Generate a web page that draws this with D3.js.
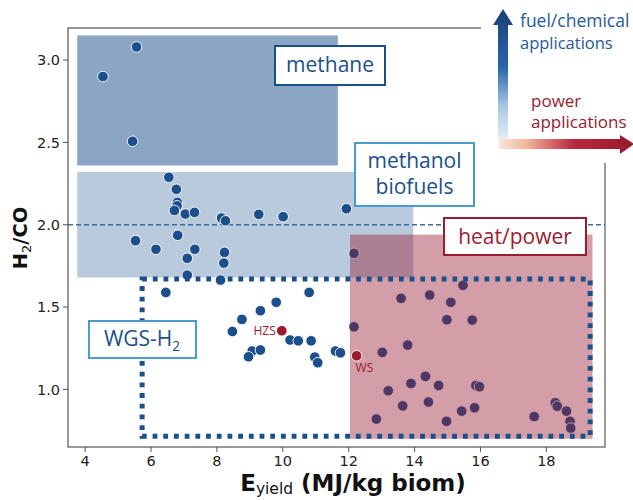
<!DOCTYPE html>
<html><head><meta charset="utf-8">
<script src="https://cdn.jsdelivr.net/npm/d3@7"></script>
<style>
html,body{margin:0;padding:0;background:#fff;}
svg{display:block;}
</style></head>
<body>
<script>
// ---- data ----
const pointsX = [5.56,4.54,5.44,
 6.54,6.77,6.80,6.79,6.71,7.04,7.32,8.14,8.26,9.27,10.01,11.93,
 5.53,6.81,6.15,7.33,8.23,7.10,8.21,7.10,8.11,12.16,
 6.45,10.80,9.80,9.32,8.76,8.47,10.22,10.47,10.86,9.07,8.96,9.32,10.97,11.06,11.60,11.75,12.16,
 15.47,13.59,14.46,15.10,14.98,15.75,13.79,13.02,14.33,13.89,14.73,15.86,15.97,13.20,13.64,14.42,15.43,15.82,12.84,14.97,17.63,18.27,18.33,18.61,18.72,18.74];
const pointsY = [3.08,2.90,2.507,
 2.288,2.215,2.136,2.115,2.087,2.065,2.075,2.041,2.024,2.063,2.049,2.097,
 1.903,1.936,1.851,1.851,1.832,1.796,1.767,1.694,1.664,1.826,
 1.589,1.589,1.529,1.478,1.425,1.352,1.300,1.295,1.295,1.233,1.198,1.239,1.196,1.162,1.233,1.222,1.380,
 1.632,1.553,1.573,1.529,1.423,1.421,1.269,1.225,1.079,1.036,1.024,1.024,1.016,0.992,0.900,0.923,0.868,0.888,0.820,0.806,0.835,0.919,0.898,0.868,0.806,0.765];
const namedLabels = ["HZS","WS"];
const namedX = [9.97,12.24];
const namedY = [1.356,1.204];

const regionNames = ["methane","methanol","heat/power"];
const regionX0 = [3.76,3.76,12.04];
const regionX1 = [11.67,13.96,19.40];
const regionY0 = [2.36,1.68,0.70];
const regionY1 = [3.15,2.32,1.94];
const wgsBox = [5.73,19.33,0.716,1.67]; // x0,x1,y0,y1
const refLineY = 2.0;

const xTicks = [4,6,8,10,12,14,16,18];
const yTicks = [1.0,1.5,2.0,2.5,3.0];

// ---- layout ----
const W=633,H=500;
const L=68,R=605,T=28,B=447;
const x = d3.scaleLinear().domain([3.48,19.78]).range([L,R]);
const y = d3.scaleLinear().domain([0.65,3.195]).range([B,T]);

const svg = d3.select("body").append("svg").attr("width",W).attr("height",H);
const defs = svg.append("defs");

const BLUE="#1b4f8c", RED="#9b1b30", LBORDER="#4b9ccc";

// region rects (blue ones under the points)
const regionFill = ["#8aa6c4","#b9cadc"];
[0,1].forEach(i=>{
  svg.append("rect").attr("x",x(regionX0[i])).attr("y",y(regionY1[i]))
    .attr("width",x(regionX1[i])-x(regionX0[i])).attr("height",y(regionY0[i])-y(regionY1[i]))
    .attr("fill",regionFill[i]);
});

// reference dashed line
svg.append("line").attr("x1",L).attr("x2",R).attr("y1",y(refLineY)).attr("y2",y(refLineY))
  .attr("stroke","#3b6ea5").attr("stroke-width",1.3).attr("stroke-dasharray","5,3");

// points
const pts = pointsX.map((v,i)=>({x:v,y:pointsY[i]}));
svg.append("g").selectAll("circle").data(pts).join("circle")
  .attr("cx",d=>x(d.x)).attr("cy",d=>y(d.y)).attr("r",5.3)
  .attr("fill",BLUE).attr("stroke","#fff").attr("stroke-width",0.9);

// heat/power region on top, semi-transparent
svg.append("rect").attr("x",x(regionX0[2])).attr("y",y(regionY1[2]))
  .attr("width",x(regionX1[2])-x(regionX0[2])).attr("height",y(regionY0[2])-y(regionY1[2]))
  .attr("fill","rgb(150,25,45)").attr("fill-opacity",0.42);

// named points
const named = namedX.map((v,i)=>({x:v,y:namedY[i],t:namedLabels[i]}));
svg.append("g").selectAll("circle").data(named).join("circle")
  .attr("cx",d=>x(d.x)).attr("cy",d=>y(d.y)).attr("r",5.3)
  .attr("fill",RED).attr("stroke","#fff").attr("stroke-width",0.9);
svg.append("text").attr("x",x(namedX[0])-6).attr("y",y(namedY[0])+4.5)
  .attr("text-anchor","end").attr("font-family","Open Sans, sans-serif").attr("font-size",12)
  .attr("fill",RED).text(namedLabels[0]);
svg.append("text").attr("x",x(namedX[1])-1).attr("y",y(namedY[1])+16)
  .attr("text-anchor","start").attr("font-family","Open Sans, sans-serif").attr("font-size",12)
  .attr("fill",RED).text(namedLabels[1]);

// WGS dotted box
svg.append("rect").attr("x",x(wgsBox[0])).attr("y",y(wgsBox[3]))
  .attr("width",x(wgsBox[1])-x(wgsBox[0])).attr("height",y(wgsBox[2])-y(wgsBox[3]))
  .attr("fill","none").attr("stroke",BLUE).attr("stroke-width",5).attr("stroke-dasharray","4.8,5.9");

// frame
svg.append("rect").attr("x",L).attr("y",T).attr("width",R-L).attr("height",B-T)
  .attr("fill","none").attr("stroke","#555").attr("stroke-width",1.2);

// ticks
const ga = svg.append("g").attr("font-family","DejaVu Sans, sans-serif").attr("font-size",14.5).attr("fill","#222");
xTicks.forEach(t=>{
  ga.append("line").attr("x1",x(t)).attr("x2",x(t)).attr("y1",B).attr("y2",B+5).attr("stroke","#555").attr("stroke-width",1);
  ga.append("text").attr("x",x(t)).attr("y",B+18.5).attr("text-anchor","middle").text(t);
});
yTicks.forEach(t=>{
  ga.append("line").attr("x1",L-5).attr("x2",L).attr("y1",y(t)).attr("y2",y(t)).attr("stroke","#555").attr("stroke-width",1);
  ga.append("text").attr("x",L-8).attr("y",y(t)+5.2).attr("text-anchor","end").text(t.toFixed(1));
});

// axis titles
const xt = svg.append("text").attr("x",353).attr("y",491).attr("text-anchor","middle")
  .attr("font-family","DejaVu Sans, sans-serif").attr("font-size",23).attr("font-weight","bold").attr("fill","#111");
xt.append("tspan").text("E");
xt.append("tspan").attr("font-size",15.5).attr("font-weight","normal").attr("dy",3).text("yield");
xt.append("tspan").attr("dy",-3).text(" (MJ/kg biom)");

const yt = svg.append("text").attr("transform","translate(27,238) rotate(-90)").attr("text-anchor","middle")
  .attr("font-family","DejaVu Sans, sans-serif").attr("font-size",19.5).attr("font-weight","bold").attr("fill","#111");
yt.append("tspan").text("H");
yt.append("tspan").attr("font-size",13).attr("font-weight","normal").attr("dy",4).text("2");
yt.append("tspan").attr("dy",-4).text("/CO");

// label boxes
function labelBox(x0,y0,w,h,stroke,lines,color,fs,baselines,cx){
  svg.append("rect").attr("x",x0).attr("y",y0).attr("width",w).attr("height",h)
    .attr("fill","#fff").attr("stroke",stroke).attr("stroke-width",2);
  lines.forEach((l,i)=>{
    const t = svg.append("text").attr("x",cx).attr("y",baselines[i]).attr("text-anchor","middle")
      .attr("font-family","Open Sans, sans-serif").attr("font-size",fs).attr("fill",color);
    if (Array.isArray(l)) {
      t.append("tspan").text(l[0]);
      t.append("tspan").attr("font-size",fs*0.65).attr("dy",5).text(l[1]);
    } else t.text(l);
  });
}
labelBox(275,46,110,39,BLUE,["methane"],BLUE,21,[72],330);
labelBox(355,143,119,63,LBORDER,["methanol","biofuels"],BLUE,21,[168,194],414.5);
labelBox(444,218,142,37,RED,["heat/power"],RED,21,[244],515);
labelBox(89,321,107,37,LBORDER,[["WGS-H","2"]],BLUE,21,[346],142);

// white area behind legend (covers frame corner)
svg.append("rect").attr("x",481).attr("y",0).attr("width",152).attr("height",163).attr("fill","#fff");

// legend arrows
const gv = defs.append("linearGradient").attr("id","gv").attr("x1",0).attr("y1",1).attr("x2",0).attr("y2",0);
gv.append("stop").attr("offset","0%").attr("stop-color","#e2edf6");
gv.append("stop").attr("offset","25%").attr("stop-color","#a9c8e2");
gv.append("stop").attr("offset","55%").attr("stop-color","#2866ad");
gv.append("stop").attr("offset","100%").attr("stop-color","#1c3f74");
const gh = defs.append("linearGradient").attr("id","gh").attr("x1",0).attr("y1",0).attr("x2",1).attr("y2",0);
gh.append("stop").attr("offset","0%").attr("stop-color","#fbe3d6");
gh.append("stop").attr("offset","20%").attr("stop-color","#f2b79c");
gh.append("stop").attr("offset","55%").attr("stop-color","#b8283e");
gh.append("stop").attr("offset","100%").attr("stop-color","#961a2e");

svg.append("path").attr("d","M498,139 L498,25 L493,25 L503,9 L513,25 L508,25 L508,139 Z").attr("fill","url(#gv)");
svg.append("path").attr("d","M499,139 L620,139 L620,135 L634,144 L620,154 L620,149 L499,149 Z").attr("fill","url(#gh)");

const lf = svg.append("g").attr("font-family","Open Sans, sans-serif");
lf.append("text").attr("x",520).attr("y",27).attr("font-size",17.5).attr("fill","#245a9c").text("fuel/chemical");
lf.append("text").attr("x",520).attr("y",49).attr("font-size",16.5).attr("fill","#245a9c").text("applications");
lf.append("text").attr("x",531).attr("y",107).attr("font-size",17).attr("fill",RED).text("power");
lf.append("text").attr("x",531).attr("y",128).attr("font-size",17).attr("fill",RED).text("applications");
</script>
</body></html>
